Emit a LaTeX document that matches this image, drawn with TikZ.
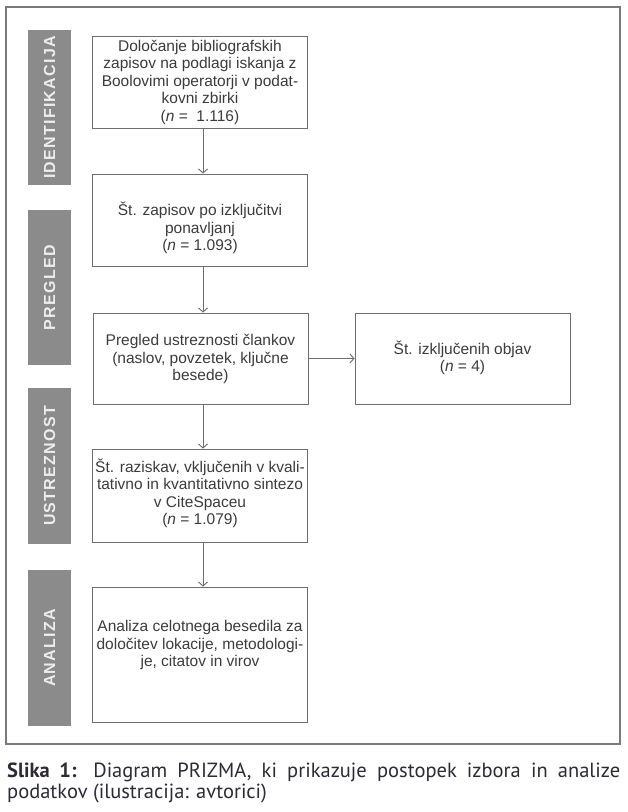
\documentclass[tikz,border=0pt]{standalone}
\usepackage{fontspec}
\setmainfont{Liberation Sans}
\newfontfamily\barfont[LetterSpace=8]{Liberation Sans}
\newfontfamily\capfont{PT Sans}
\usetikzlibrary{arrows.meta}
\definecolor{boxline}{HTML}{6E6E6E}
\definecolor{frameline}{HTML}{7A7A7A}
\definecolor{barfill}{HTML}{8B8B8B}
\definecolor{bartext}{HTML}{EDEDED}
\definecolor{boxtext}{HTML}{3C3C3C}
\definecolor{captext}{HTML}{2D2A36}
\tikzset{
  stepbox/.style={draw=boxline, line width=0.9pt, fill=white, minimum width=215pt, inner sep=0pt},
  boxtxt/.style={align=center, text=boxtext, inner sep=0pt, font=\fontsize{15.5}{17.5}\selectfont},
  phasebar/.style={fill=barfill, draw=none, minimum width=43pt, inner sep=0pt},
  phaselabel/.style={rotate=90, text=bartext, inner sep=0pt, font=\barfont\bfseries\fontsize{16}{16}\selectfont},
  arr/.style={draw=boxline, line width=0.9pt, -{Straight Barb[length=4pt,width=9pt]}},
}
\begin{document}
\begin{tikzpicture}[x=1pt,y=-1pt]
\useasboundingbox (0,0) rectangle (628,812);
\fill[white] (0,0) rectangle (628,812);
\draw[frameline, line width=1.1pt] (6,7) rectangle (620,744);

% phase bars
\node[phasebar, minimum height=155pt] (p1) at (49.5,107.5) {};
\node[phaselabel] (l1) at (p1.center) {IDENTIFIKACIJA};
\node[phasebar, minimum height=155pt] (p2) at (49.5,287.5) {};
\node[phaselabel] (l2) at (p2.center) {PREGLED};
\node[phasebar, minimum height=156pt] (p3) at (49.5,466) {};
\node[phaselabel] (l3) at (p3.center) {USTREZNOST};
\node[phasebar, minimum height=156pt] (p4) at (49.5,648) {};
\node[phaselabel] (l4) at (p4.center) {ANALIZA};

% boxes
\node[stepbox, minimum height=92pt] (b1) at (200,82) {};
\node[boxtxt] (t1) at (200,82) {Določanje bibliografskih\\zapisov na podlagi iskanja z\\Boolovimi operatorji v podat-\\kovni zbirki\\(\textit{n} =\ \ 1.116)};

\node[stepbox, minimum height=92pt] (b2) at (200,220) {};
\node[boxtxt] (t2) at (200,228) {Št. zapisov po izključitvi\\ponavljanj\\(\textit{n} = 1.093)};

\node[stepbox, minimum height=91pt] (b3) at (200.5,358.5) {};
\node[boxtxt] (t3) at (200.5,359) {Pregled ustreznosti člankov\\(naslov, povzetek, ključne\\besede)};

\node[stepbox, minimum height=91pt] (b6) at (462.5,358.5) {};
\node[boxtxt] (t6) at (462.5,358) {Št. izključenih objav\\(\textit{n} = 4)};

\node[stepbox, minimum height=93pt] (b4) at (200,495.5) {};
\node[boxtxt] (t4) at (200,493.5) {Št. raziskav, vključenih v kvali-\\tativno in kvantitativno sintezo\\v CiteSpaceu\\(\textit{n} = 1.079)};

\node[stepbox, minimum height=135pt] (b5) at (200,654.5) {};
\node[boxtxt] (t5) at (200,645) {Analiza celotnega besedila za\\določitev lokacije, metodologi-\\je, citatov in virov};

% connectors
\coordinate (ax) at (203,0);
\draw[arr] (b1.south -| ax) -- (b2.north -| ax);
\draw[arr] (b2.south -| ax) -- (b3.north -| ax);
\draw[arr] (b3.south -| ax) -- (b4.north -| ax);
\draw[arr] (b4.south -| ax) -- (b5.north -| ax);
\draw[arr] (b3.east) -- (b6.west);

% caption
\node[anchor=base west, text width=613pt, align=justify, inner sep=0pt, text=captext,
      font=\capfont\fontsize{20.5}{21}\selectfont] (cap) at (7,777)
  {\textbf{Slika 1:} Diagram PRIZMA, ki prikazuje postopek izbora in analize\linebreak podatkov (ilustracija: avtorici)};
\end{tikzpicture}
\end{document}
